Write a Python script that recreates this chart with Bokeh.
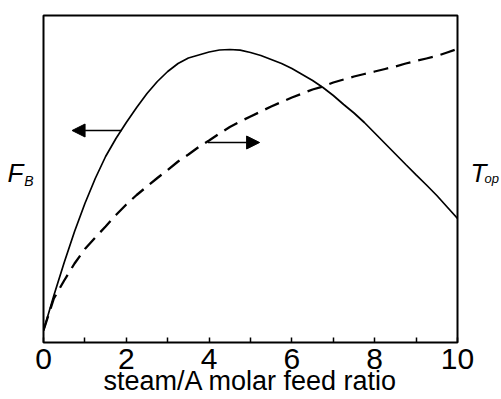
from bokeh.plotting import figure
from bokeh.models import Range1d, FixedTicker, LinearAxis, Arrow, NormalHead
from bokeh.embed import file_html
from bokeh.resources import INLINE

# steam/A molar feed ratio (x)
ratio = [0, 0.25, 0.5, 0.75, 1, 1.25, 1.5, 1.75, 2, 2.25, 2.5, 2.75, 3, 3.25, 3.5, 3.75,
         4, 4.25, 4.5, 4.75, 5, 5.25, 5.5, 5.75, 6, 6.25, 6.5, 6.75, 7, 7.25, 7.5, 7.75,
         8, 8.25, 8.5, 8.75, 9, 9.25, 9.5, 9.75, 10]
# F_B (solid, left scale, arbitrary units)
fb = [12, 47, 80, 111, 139, 164, 186, 204, 220, 235, 249, 261, 271, 279, 284.5, 287.5,
      290.5, 292.5, 293, 292.3, 290, 287, 283, 279, 274, 268, 262, 255, 247, 238, 229.5, 220,
      209.5, 199, 188.5, 178, 167.7, 157.5, 147, 135.5, 124]
# T_op (dashed, right scale, arbitrary units)
t_op = [12, 44, 62, 79, 93.5, 105, 116, 127.5, 138, 147.5, 156, 164.5, 172.5, 181, 188, 195.5,
        202, 209, 215.5, 221, 226, 231, 236, 240.5, 245, 249, 253, 256, 260, 263, 266, 268.5,
        271, 273.5, 276, 279, 281.5, 284, 286.5, 290, 293.5]

x_major = [0, 2, 4, 6, 8, 10]
x_minor = [1, 3, 5, 7, 9]
x_title = "steam/A molar feed ratio"

# arrows pointing to the relevant axis (x0, y0) -> (x1, y1)
arrow_left = (1.89, 212, 0.69, 212)
arrow_right = (3.97, 200, 5.22, 200)

FONT = "Liberation Sans"

p = figure(width=501, height=399, output_backend="svg", toolbar_location=None,
           x_range=Range1d(0, 10), y_range=Range1d(0, 327), y_axis_location=None,
           min_border_left=43, min_border_right=42, min_border_top=15, min_border_bottom=57)
p.background_fill_color = "white"
p.border_fill_color = "white"
p.outline_line_color = "black"
p.outline_line_width = 2
p.xgrid.visible = False
p.ygrid.visible = False

ax = p.xaxis[0]
ax.ticker = FixedTicker(ticks=x_major, minor_ticks=x_minor)
ax.axis_line_color = None
ax.major_tick_in = 5
ax.major_tick_out = 0
ax.minor_tick_in = 5
ax.minor_tick_out = 0
ax.major_tick_line_color = "black"
ax.minor_tick_line_color = "black"
ax.major_tick_line_width = 1.5
ax.minor_tick_line_width = 1.5
ax.major_label_standoff = 6
ax.major_label_text_font = FONT
ax.major_label_text_font_size = "30px"
ax.major_label_text_color = "black"
ax.axis_label = x_title
ax.axis_label_text_font = FONT
ax.axis_label_text_font_size = "27px"
ax.axis_label_text_font_style = "normal"
ax.axis_label_text_color = "black"
ax.axis_label_text_line_height = 0.5
ax.axis_label_standoff = -6


def label_axis(text, tick, size, standoff, side):
    a = LinearAxis(ticker=FixedTicker(ticks=[tick], minor_ticks=[]),
                   major_label_overrides={tick: text})
    a.axis_line_color = None
    a.major_tick_line_color = None
    a.minor_tick_line_color = None
    a.major_tick_in = 0
    a.major_tick_out = 0
    a.minor_tick_in = 0
    a.minor_tick_out = 0
    a.major_label_standoff = standoff
    a.major_label_text_font = FONT
    a.major_label_text_font_size = size
    a.major_label_text_font_style = "italic"
    a.major_label_text_color = "black"
    p.add_layout(a, side)


# left axis title F_B (subscript axis nearest the frame)
label_axis("B", 162, "14px", 10, "left")
label_axis("F", 170, "26px", -2, "left")
# right axis title T_op
label_axis("T", 170, "26px", 13, "right")
label_axis("op", 164, "13px", -5, "right")

p.line(ratio, fb, line_color="black", line_width=1.7)
p.line(ratio, t_op, line_color="black", line_width=2.3, line_dash="15 8")

for x0, y0, x1, y1 in (arrow_left, arrow_right):
    p.add_layout(Arrow(end=NormalHead(size=13, fill_color="black", line_color="black"),
                       x_start=x0, y_start=y0, x_end=x1, y_end=y1,
                       line_color="black", line_width=1.5))

open("out.html", "w").write(file_html(p, INLINE))
